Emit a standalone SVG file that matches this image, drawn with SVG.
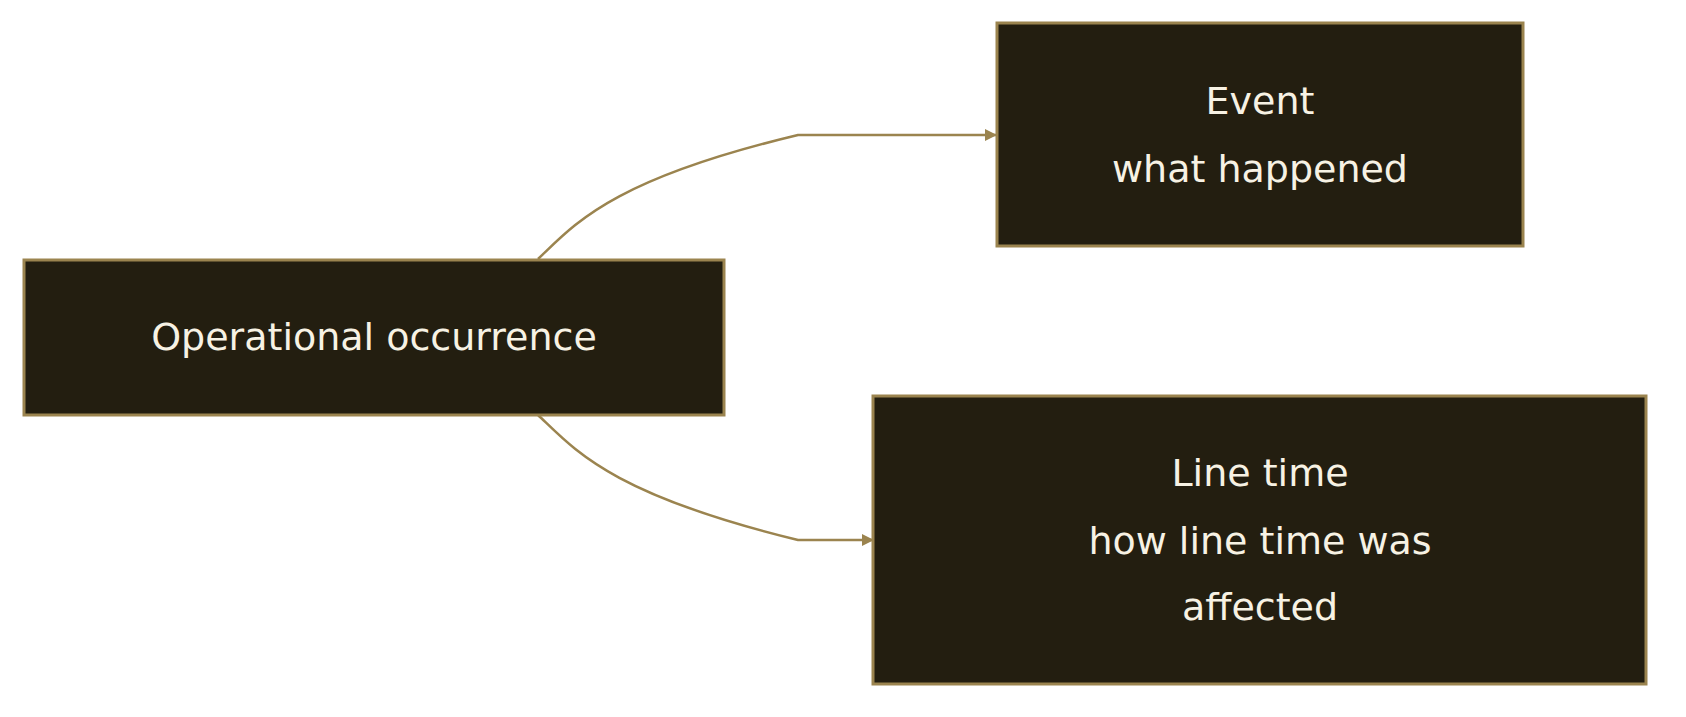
<svg xmlns="http://www.w3.org/2000/svg" width="1686" height="717" viewBox="0 0 1686 717">
<style>
.n{fill:#231e10;stroke:#9b844f;stroke-width:3}
.t{fill:#f7f2e4;font-family:"DejaVu Sans",sans-serif;font-size:38px;text-anchor:middle}
.e{fill:none;stroke:#9b844f;stroke-width:2.5}
</style>
<defs><marker id="a" markerWidth="12" markerHeight="12" refX="11" refY="6" orient="auto" markerUnits="userSpaceOnUse" viewBox="0 0 12 12"><path d="M0,0L12,6L0,12z" fill="#9b844f"/></marker></defs>
<rect width="1686" height="717" fill="#fff"/>
<g id="edges">
<path class="e" d="M538,259 C575,224 610,180 798,135 L996,135" marker-end="url(#a)"/>
<path class="e" d="M538,415 C575,450 610,494 798,540 L873,540" marker-end="url(#a)"/>
</g>
<g id="op"><rect class="n" x="24" y="260" width="700" height="155"/><text class="t" x="374" y="350">Operational occurrence</text></g>
<g id="event"><rect class="n" x="997" y="23" width="526" height="223"/><text class="t" x="1260" y="114">Event</text><text class="t" x="1260" y="182">what happened</text></g>
<g id="linetime"><rect class="n" x="873" y="396" width="773" height="288"/><text class="t" x="1260" y="486">Line time</text><text class="t" x="1260" y="554">how line time was</text><text class="t" x="1260" y="620">affected</text></g>
</svg>
